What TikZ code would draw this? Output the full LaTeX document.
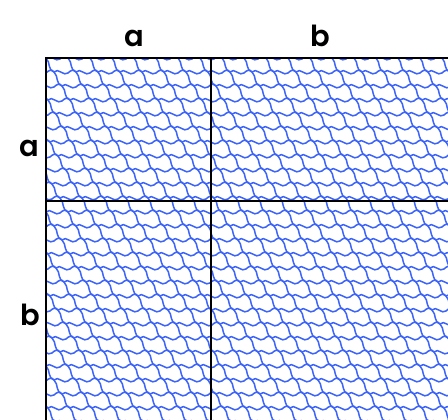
\documentclass[tikz,border=0pt]{standalone}
\usepackage{fontspec}
\setmainfont{Poppins}[BoldFont={Poppins SemiBold}]
\definecolor{scale}{RGB}{60,100,250}
\tikzset{
  frame/.style={draw=black, line width=1.4pt},
  scl/.style={draw=scale, line width=1.5pt},
  lbl/.style={font=\fontsize{29}{29}\bfseries, inner sep=0pt, anchor=base}
}
\begin{document}
\begin{tikzpicture}[x=1pt,y=-1pt]
\useasboundingbox (0,0) rectangle (448,420);
\begin{scope}
\clip (46,58) rectangle (448,420);
\foreach \j in {0,...,27}{
  \foreach \i in {-12,...,19}{
    \pgfmathsetmacro{\xo}{46+\i*22+\j*8}
    \pgfmathsetmacro{\yo}{58+\j*14}
    \draw[scl] (\xo,\yo) .. controls (\xo+4,\yo-5) and (\xo+10,\yo+5) .. (\xo+14,\yo+1)
      .. controls (\xo+17,\yo-2) and (\xo+20,\yo-3) .. (\xo+22,\yo)
      .. controls (\xo+27,\yo+5) and (\xo+23,\yo+11) .. (\xo+30,\yo+14);
  }
}
\end{scope}
\coordinate (tl) at (46,58);
\coordinate (tr) at (448,58);
\coordinate (bl) at (46,420);
\coordinate (mt) at (211,58);
\coordinate (mb) at (211,420);
\coordinate (ml) at (46,201);
\coordinate (mr) at (448,201);
\draw[frame] (bl) -- (tl) -- (tr);
\draw[frame] (mt) -- (mb);
\draw[frame] (ml) -- (mr);
\node[lbl] (la) at (134,47) {a};
\node[lbl] (lb) at (320,47) {b};
\node[lbl] (sa) at (29,157) {a};
\node[lbl] (sb) at (30,325) {b};
\end{tikzpicture}
\end{document}
